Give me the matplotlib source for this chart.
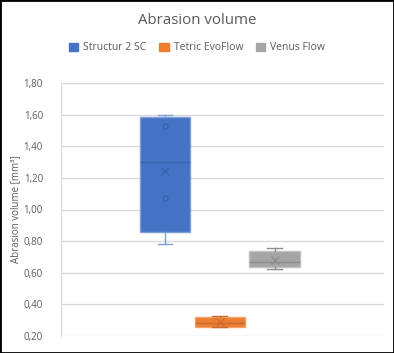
import matplotlib.pyplot as plt
from matplotlib.patches import Rectangle, Patch
from matplotlib.ticker import FuncFormatter

plt.rcParams['font.family'] = ['Open Sans', 'DejaVu Sans']

# values (mm³)
series = ["Structur 2 SC", "Tetric EvoFlow", "Venus Flow"]
whisker_low = [0.78, 0.255, 0.625]
q1 = [0.855, 0.255, 0.635]
median = [1.30, 0.28, 0.67]
q3 = [1.583, 0.317, 0.737]
whisker_high = [1.60, 0.325, 0.758]
mean = [1.245, 0.289, 0.682]
inner_points = [[1.53, 1.07], [], []]

colors = ["#4472C4", "#ED7D31", "#A5A5A5"]
edge_colors = ["#7F9FD8", "#F2A16F", "#C0C0C0"]
dark_colors = ["#3A62AA", "#C9692A", "#8C8C8C"]

yticks = [0.2 + 0.2 * i for i in range(9)]

fig = plt.figure(figsize=(3.94, 3.53), dpi=100)
ax = fig.add_axes([61 / 394, 1 - 336 / 353, 323 / 394, 253 / 353])

positions = [0.322, 0.492, 0.661]
width = 0.155

stats = []
for i, name in enumerate(series):
    stats.append({
        "label": name, "whislo": whisker_low[i], "q1": q1[i], "med": median[i],
        "q3": q3[i], "whishi": whisker_high[i], "mean": mean[i], "fliers": [],
    })

for i, st in enumerate(stats):
    wc = edge_colors[i] if i == 0 else dark_colors[i]
    ax.bxp([st], positions=[positions[i]], widths=width, patch_artist=True,
           showmeans=True, showfliers=False, manage_ticks=False,
           boxprops=dict(facecolor=colors[i], edgecolor=edge_colors[i], linewidth=1),
           medianprops=dict(color=dark_colors[i], linewidth=1),
           whiskerprops=dict(color=wc, linewidth=1),
           capprops=dict(color=wc, linewidth=1),
           capwidths=0.046,
           meanprops=dict(marker="x", markeredgecolor=dark_colors[i], markersize=6,
                          markeredgewidth=1),
           zorder=3)
    if inner_points[i]:
        ax.plot([positions[i]] * len(inner_points[i]), inner_points[i], "o",
                markerfacecolor="none", markeredgecolor=dark_colors[i],
                markersize=3.5, markeredgewidth=1, zorder=4)

ax.set_xlim(0, 1)
ax.set_ylim(0.2, 1.8)
ax.set_yticks(yticks)
ax.yaxis.set_major_formatter(FuncFormatter(lambda v, p: f"{v:.2f}".replace(".", ",")))
ax.set_xticks([])
ax.tick_params(axis="y", length=0, pad=13, labelsize=7, labelcolor="#595959")
ax.grid(axis="y", color="#D9D9D9", linewidth=1, zorder=0)
ax.set_axisbelow(True)
for s in ["top", "right", "bottom"]:
    ax.spines[s].set_visible(False)
ax.spines["left"].set_color("#D9D9D9")
ax.set_ylabel("Abrasion volume [mm³]", fontsize=7, color="#595959", labelpad=2)

fig.text(0.5, 1 - 20 / 353, "Abrasion volume", ha="center", va="center",
         fontsize=10.8, color="#595959")
handles = [Patch(facecolor=c, edgecolor=c) for c in colors]
fig.legend(handles, series, loc="center", bbox_to_anchor=(0.5, 1 - 48 / 353), ncol=3,
           frameon=False, fontsize=7.5, labelcolor="#595959", handlelength=0.9,
           handleheight=0.9, handletextpad=0.5, columnspacing=1.2)

fig.patches.append(Rectangle((0, 0), 1, 1, transform=fig.transFigure, fill=False,
                             edgecolor="black", linewidth=2))

fig.savefig("out.png", dpi=100)
